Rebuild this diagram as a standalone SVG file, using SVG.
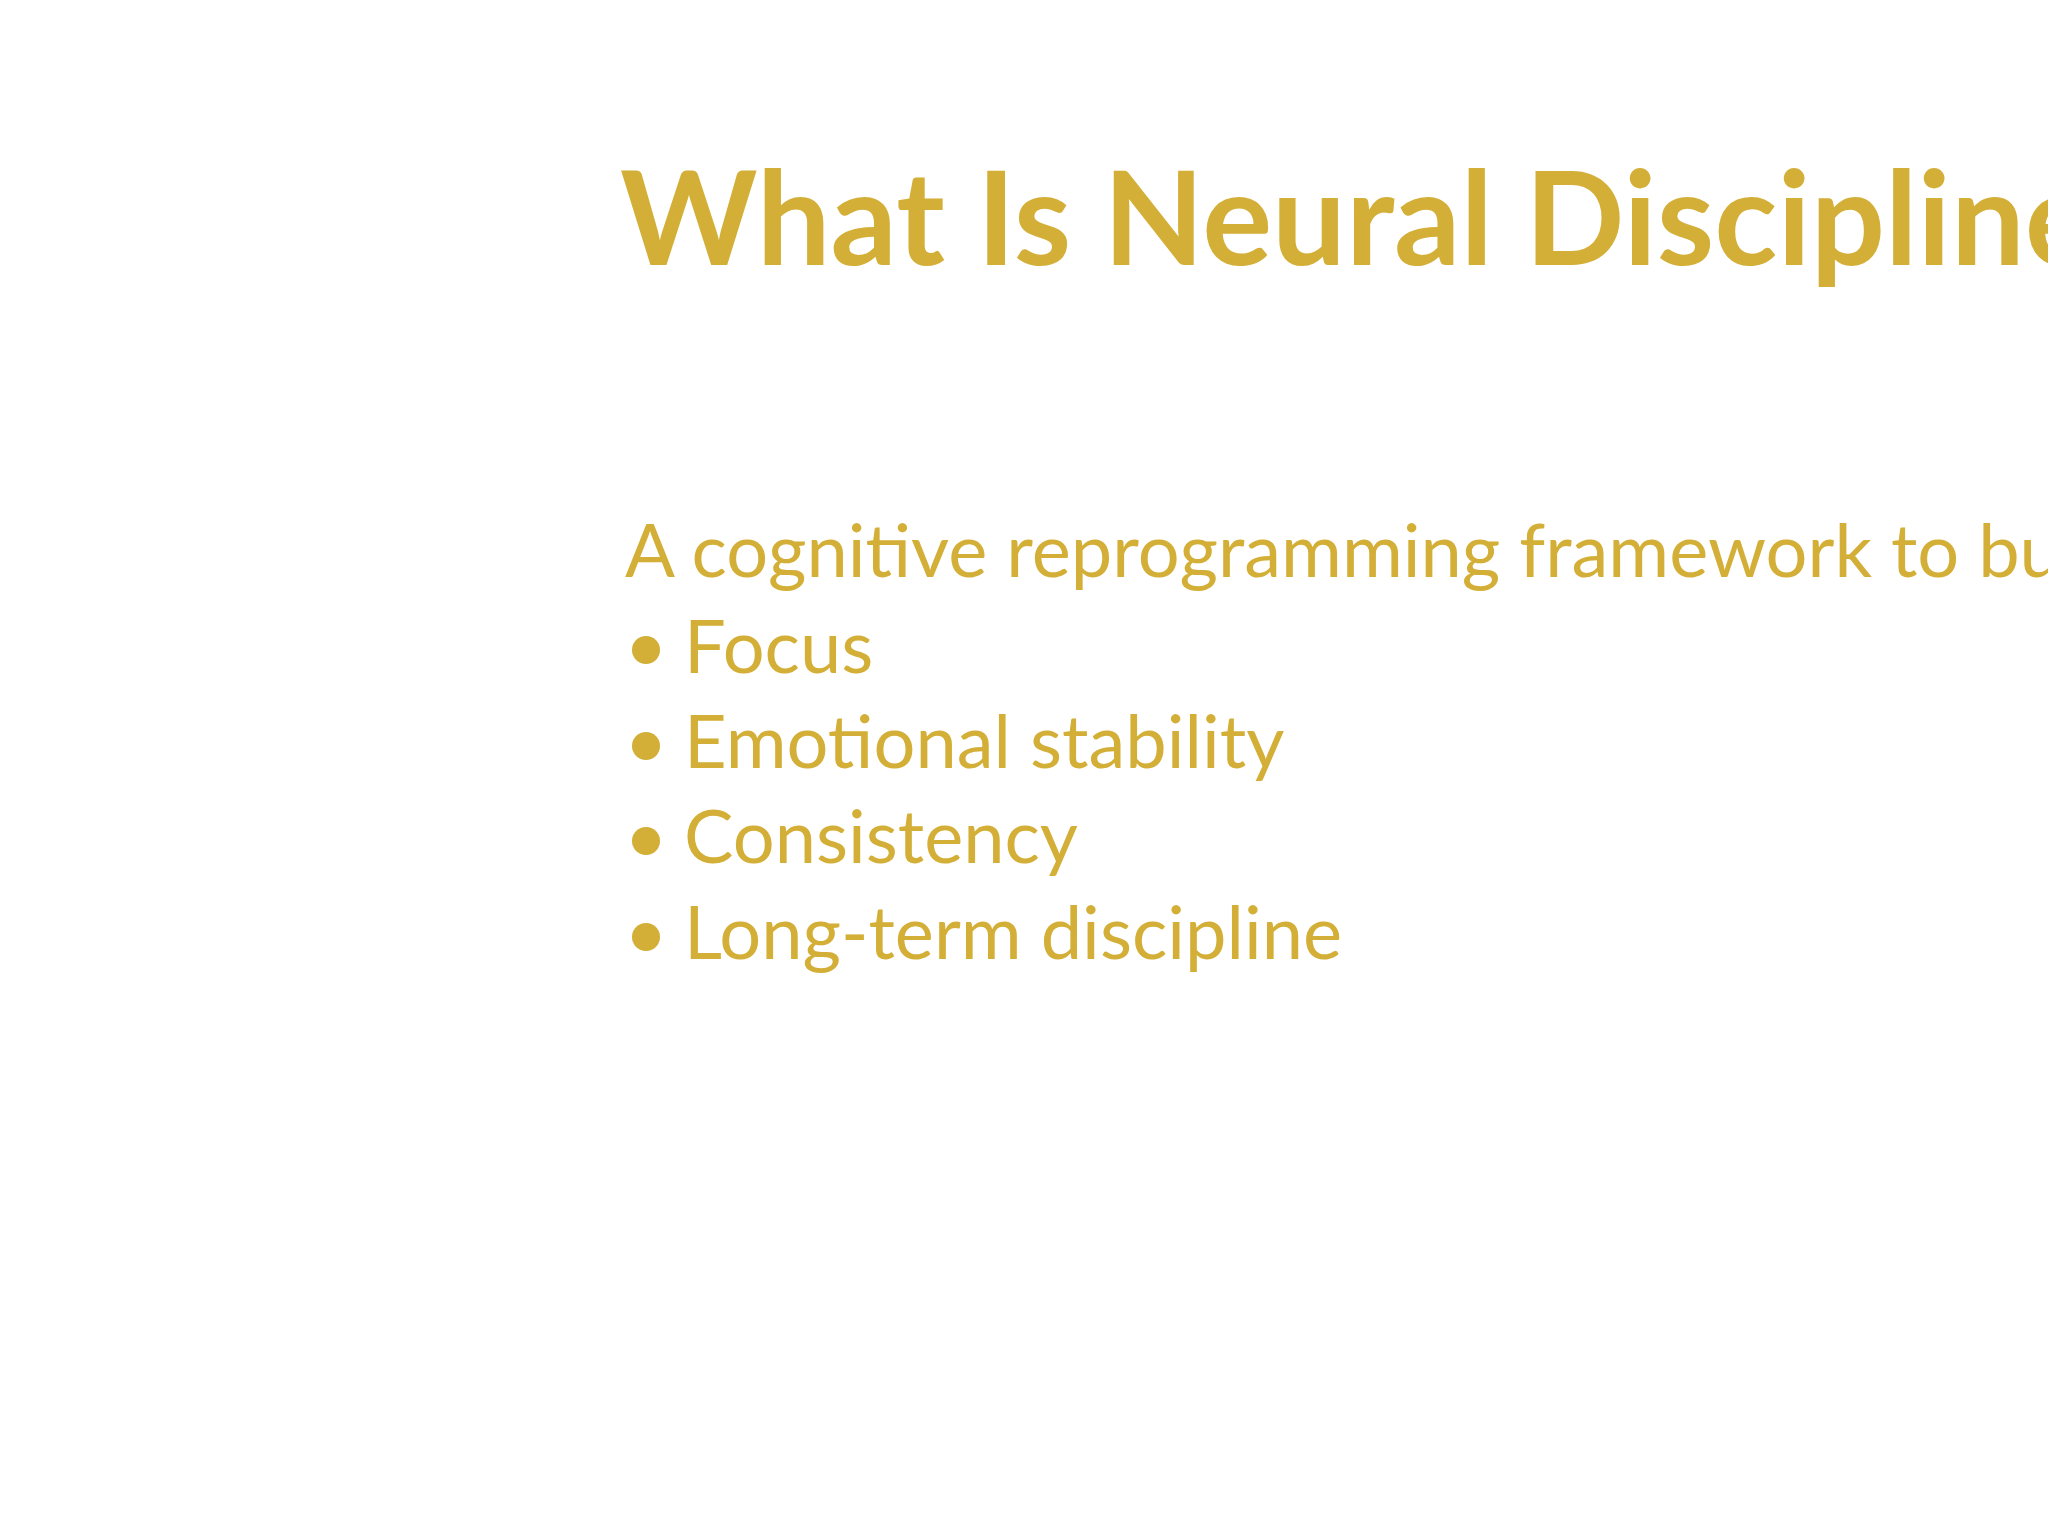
<svg xmlns="http://www.w3.org/2000/svg" width="2048" height="1536" viewBox="0 0 2048 1536">
<style>
.t{font-family:Lato,"Noto Sans",sans-serif;fill:#D4AF37}
.b{font-size:74px}
</style>
<rect width="2048" height="1536" fill="#fff"/>
<g id="title"><text class="t" x="620" y="265" font-size="131" font-weight="bold">What Is Neural Discipline</text></g>
<g id="subtitle"><text class="t b" x="625" y="577">A cognitive reprogramming framework to build</text></g>
<g id="bullets" fill="#D4AF37">
<circle cx="646" cy="650" r="14"/><text class="t b" x="684" y="673">Focus</text>
<circle cx="646" cy="746" r="14"/><text class="t b" x="684" y="768">Emotional stability</text>
<circle cx="646" cy="841" r="14"/><text class="t b" x="684" y="863">Consistency</text>
<circle cx="646" cy="937" r="14"/><text class="t b" x="684" y="959">Long-term discipline</text>
</g>
</svg>
